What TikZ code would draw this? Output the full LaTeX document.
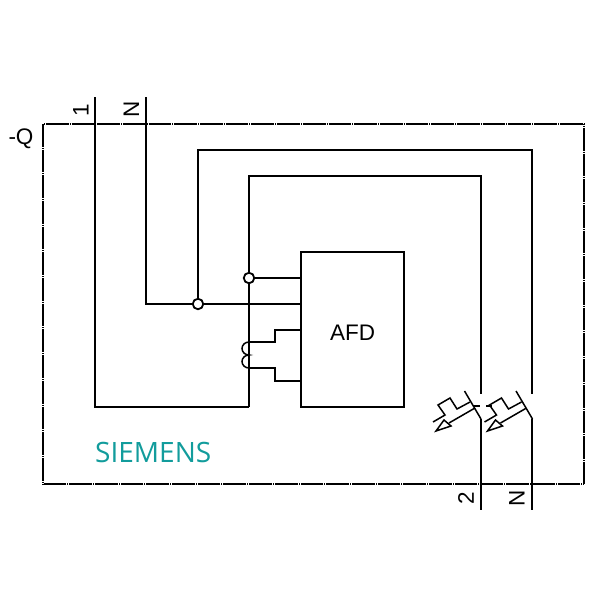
\documentclass[tikz,border=0pt]{standalone}
\usepackage{fontspec}
\setmainfont{Liberation Sans}
\newfontfamily\logofont{Open Sans}
\definecolor{siemens}{HTML}{129C9C}
\tikzset{
  wire/.style={line width=1.8pt,black,line cap=butt,line join=miter},
  thinwire/.style={line width=1.5pt,black,line join=miter},
  frameline/.style={line width=1.5pt,black,dash pattern=on 22.7pt off 1pt on 1pt off 1pt},
  label/.style={font=\fontsize{22.5}{22.5}\selectfont,text=black,inner sep=0pt},
  junction/.style={circle,draw=black,fill=white,line width=1.8pt,minimum size=10.5pt,inner sep=0pt,outer sep=0pt},
  afdbox/.style={draw=black,line width=1.8pt,fill=white,minimum width=103pt,minimum height=155pt,inner sep=0pt,outer sep=0pt,anchor=north west},
}
\begin{document}
\begin{tikzpicture}[x=1pt,y=-1pt]
\useasboundingbox (0,0) rectangle (600,600);
\fill[white] (0,0) rectangle (600,600);
% frame
\coordinate (ftl) at (43,124);
\coordinate (ftr) at (584,124);
\coordinate (fbr) at (584,484);
\coordinate (fbl) at (43,484);
\draw[frameline,dash phase=22.9pt] (ftl) -- (ftr);
\draw[frameline,dash phase=21.9pt] (ftr) -- (fbr);
\draw[frameline,dash phase=21.9pt] (fbr) -- (fbl);
\draw[frameline,dash phase=0.2pt] (ftl) -- (fbl);
% named points
\coordinate (t1) at (95,97);
\coordinate (tN) at (146,97);
\coordinate (b1) at (249,407);
\coordinate (c1a) at (481,394);
\coordinate (c2a) at (532,394);
\coordinate (c1b) at (481,419);
\coordinate (c2b) at (532,419);
\coordinate (t2) at (481,510);
\coordinate (tN2) at (532,510);
\node[afdbox] (afd) at (301,252) {};
\node[font=\fontsize{22.5}{22.5}\selectfont,inner sep=0pt] (afdt) at (352.5,332.5) {AFD};
\coordinate (j2) at (198,304);
\coordinate (j1) at (249,278);
% wires
\draw[wire] (t1) -- (95,407) -- (b1);
\draw[wire] (tN) -- (146,304) -- (301,304);
\draw[wire] (j2) -- (198,150) -- (532,150) -- (c2a);
\draw[wire] (b1) -- (249,176) -- (481,176) -- (c1a);
\draw[wire] (j1) -- (301,278);
\draw[wire] (c1b) -- (t2);
\draw[wire] (c2b) -- (tN2);
% coil taps
\draw[wire] (249,342) -- (275,342) -- (275,330) -- (301,330);
\draw[wire] (249,368) -- (275,368) -- (275,381) -- (301,381);
\draw[thinwire] (249,342) arc[start angle=90,end angle=270,x radius=7pt,y radius=6.5pt]
                arc[start angle=90,end angle=270,x radius=7pt,y radius=6.5pt];
\node[junction] (jn1) at (j1) {};
\node[junction] (jn2) at (j2) {};
% contacts
\foreach \d in {0,51.5}{
  \begin{scope}[xshift=\d pt]
    \draw[thinwire] (481,419) -- (464.5,391);
    \draw[thinwire] (433,422) -- (445,415) -- (438,405) -- (450,398) -- (457,409) -- (470,402);
    \draw[thinwire] (475,408) -- (449,423);
    \draw[thinwire,fill=white] (436,431) -- (444,420) -- (451,426) -- cycle;
  \end{scope}
}
\draw[thinwire] (473,406) -- (480,406);
\draw[thinwire] (486,406) -- (492,406);
% labels
\node[label,rotate=90] (l1) at (81,110) {1};
\node[label,rotate=90] (lN) at (131.5,109) {N};
\node[label,rotate=90] (l2) at (466,498) {2};
\node[label,rotate=90] (lN2) at (517,498) {N};
\node[label] (lQ) at (21,139) {-Q};
\node[font=\logofont\fontsize{28}{28}\selectfont,text=siemens,inner sep=0pt,anchor=base west] (logo) at (95,462.5) {SIEMENS};
\end{tikzpicture}
\end{document}
